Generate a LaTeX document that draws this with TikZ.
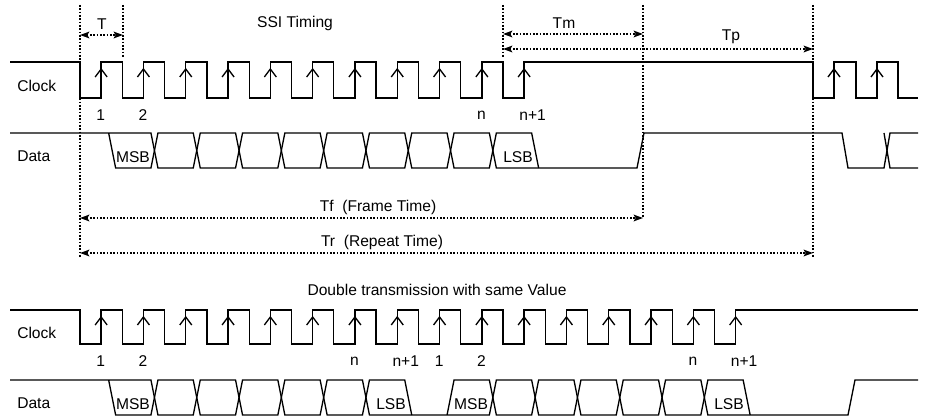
\documentclass[tikz,border=0pt]{standalone}
\usepackage{fontspec}
\setmainfont{Liberation Sans}
\usetikzlibrary{arrows.meta}

\tikzset{
  sig/.style={line width=1pt},
  guide/.style={line width=1.2pt, dash pattern=on 1.2pt off 1.3pt},
  dim/.style={guide, {Stealth[length=7pt,width=5pt,inset=1.5pt]}-{Stealth[length=7pt,width=5pt,inset=1.5pt]}},
  lbl/.style={inner sep=0pt, font=\fontsize{11.7}{14}\selectfont}
}
\newcommand{\tpos}[1]{(80+(2*(#1)-1)*\h+11)}
\newcommand{\rpos}[1]{(80+(2*(#1)-1)*\h)}

\begin{document}
\begin{tikzpicture}[x=0.75pt,y=-0.75pt]
\useasboundingbox (0,0) rectangle (926,417);
\def\h{21.15}
% labels
\node[lbl] (ssi) at (295,23) {SSI Timing};
\node[lbl] (dbl) at (437,290) {Double transmission with same Value};
\node[lbl,anchor=west] (clkA) at (17,86) {Clock};
\node[lbl,anchor=west] (datA) at (17,156) {Data};
\node[lbl,anchor=west] (clkB) at (17,333) {Clock};
\node[lbl,anchor=west] (datB) at (17,403) {Data};
% guide lines
\draw[guide] (80,5) -- (80,258);
\draw[guide] (123,5) -- (123,57);
\draw[guide] (503,5) -- (503,57);
\draw[guide] (643,5) -- (643,218);
\draw[guide] (813,5) -- (813,258);
% times
\coordinate (Ta) at (80,35);  \coordinate (Tb) at (123,35);
\coordinate (Tma) at (503,34); \coordinate (Tmb) at (643,34);
\coordinate (Tpa) at (503,49); \coordinate (Tpb) at (813,49);
\coordinate (Tfa) at (80,218); \coordinate (Tfb) at (643,218);
\coordinate (Tra) at (80,253); \coordinate (Trb) at (813,253);
\draw[dim] (Ta) -- (Tb);
\draw[dim] (Tma) -- (Tmb);
\draw[dim] (Tpa) -- (Tpb);
\draw[dim] (Tfa) -- (Tfb);
\draw[dim] (Tra) -- (Trb);
\node[lbl] (tT) at (102,24) {T};
\node[lbl] (tTm) at (564,23) {Tm};
\node[lbl] (tTp) at (731,37) {Tp};
\node[lbl] (tTf) at (378,207) {Tf\ \ (Frame Time)};
\node[lbl] (tTr) at (382,242) {Tr\ \ (Repeat Time)};

% clock, first diagram
\draw[sig] (10,62) -- (80,62) -- (80,98)
  \foreach \k in {1,...,10}{ -- ({\rpos{\k}},98) -- ({\rpos{\k}},62) -- ({80+2*\k*\h},62) -- ({80+2*\k*\h},98)}
  -- ({\rpos{11}},98) -- ({\rpos{11}},62) -- (813,62) -- (813,98) -- (834,98) -- (834,62)
  -- (856,62) -- (856,98) -- (877,98) -- (877,62) -- (898,62) -- (898,98) -- (918,98);
\foreach \k in {1,...,11}
  \draw[sig] ({\rpos{\k}-6},77) -- ({\rpos{\k}},69) -- ++(6,8);
\foreach \x in {834,877}
  \draw[sig] (\x-6,77) -- (\x,69) -- ++(6,8);
\node[lbl,anchor=west] (a1) at ({\rpos{1}-5},115) {1};
\node[lbl,anchor=west] (a2) at ({\rpos{2}-5},115) {2};
\node[lbl,anchor=west] (an) at ({\rpos{10}-5},115) {n};
\node[lbl,anchor=west] (an1) at ({\rpos{11}-5},115) {n+1};

% data, first diagram
\draw[sig] (10,133) -- ({\tpos{2}-3.5},133) -- ({\tpos{2}},150.5) -- ({\tpos{2}-3.5},168)
  -- ({\tpos{1}+3.5},168) -- ({\tpos{1}-3.5},133);
\foreach \k in {2,...,9}
  \draw[sig] ({\tpos{\k}},150.5) -- ({\tpos{\k}+3.5},133) -- ({\tpos{\k+1}-3.5},133) -- ({\tpos{\k+1}},150.5)
    -- ({\tpos{\k+1}-3.5},168) -- ({\tpos{\k}+3.5},168) -- cycle;
\draw[sig] ({\tpos{10}},150.5) -- ({\tpos{10}+3.5},133) -- ({\tpos{11}-3.5},133) -- ({\tpos{11}+3.5},168);
\draw[sig] ({\tpos{10}},150.5) -- ({\tpos{10}+3.5},168) -- (637,168) -- (644,133) -- (842,133)
  -- (848,168) -- (884,168) -- (890,133) -- (918,133);
\draw[sig] (884,133) -- (890,168) -- (918,168);
\node[lbl] (msbA) at (133,157) {MSB};
\node[lbl] (lsbA) at (518,157) {LSB};

% clock, second diagram
\draw[sig] (10,310) -- (80,310) -- (80,344)
  \foreach \k in {1,...,15}{ -- ({\rpos{\k}},344) -- ({\rpos{\k}},310) -- ({80+2*\k*\h},310) -- ({80+2*\k*\h},344)}
  -- ({\rpos{16}},344) -- ({\rpos{16}},310) -- (918,310);
\foreach \k in {1,...,16}
  \draw[sig] ({\rpos{\k}-6},325) -- ({\rpos{\k}},317) -- ++(6,8);
\foreach \k/\t [count=\i] in {1/1,2/2,7/n,8/n+1,9/1,10/2,15/n,16/n+1}
  \node[lbl,anchor=west] (b\i) at ({\rpos{\k}-5},361) {\t};

% data, second diagram
\draw[sig] (10,380) -- ({\tpos{2}-3.5},380) -- ({\tpos{2}},397.5) -- ({\tpos{2}-3.5},415)
  -- ({\tpos{1}+3.5},415) -- ({\tpos{1}-3.5},380);
\foreach \k in {2,...,6,10,11,...,14}
  \draw[sig] ({\tpos{\k}},397.5) -- ({\tpos{\k}+3.5},380) -- ({\tpos{\k+1}-3.5},380) -- ({\tpos{\k+1}},397.5)
    -- ({\tpos{\k+1}-3.5},415) -- ({\tpos{\k}+3.5},415) -- cycle;
\draw[sig] ({\tpos{7}},397.5) -- ({\tpos{7}+3.5},380) -- ({\tpos{8}-3.5},380) -- ({\tpos{8}+3.5},415);
\draw[sig] ({\tpos{7}},397.5) -- ({\tpos{7}+3.5},415) -- ({\tpos{10}-3.5},415) -- ({\tpos{10}},397.5)
  -- ({\tpos{10}-3.5},380) -- ({\tpos{9}+3.5},380) -- ({\tpos{9}-3.5},415);
\draw[sig] ({\tpos{15}},397.5) -- ({\tpos{15}+3.5},380) -- ({\tpos{16}-3.5},380) -- ({\tpos{16}+3.5},415);
\draw[sig] ({\tpos{15}},397.5) -- ({\tpos{15}+3.5},415) -- (848,415) -- (855,380) -- (918,380);
\node[lbl] (msbB) at (133,404) {MSB};
\node[lbl] (lsbB) at (391,404) {LSB};
\node[lbl] (msbC) at (471,404) {MSB};
\node[lbl] (lsbC) at (729,404) {LSB};
\end{tikzpicture}
\end{document}
